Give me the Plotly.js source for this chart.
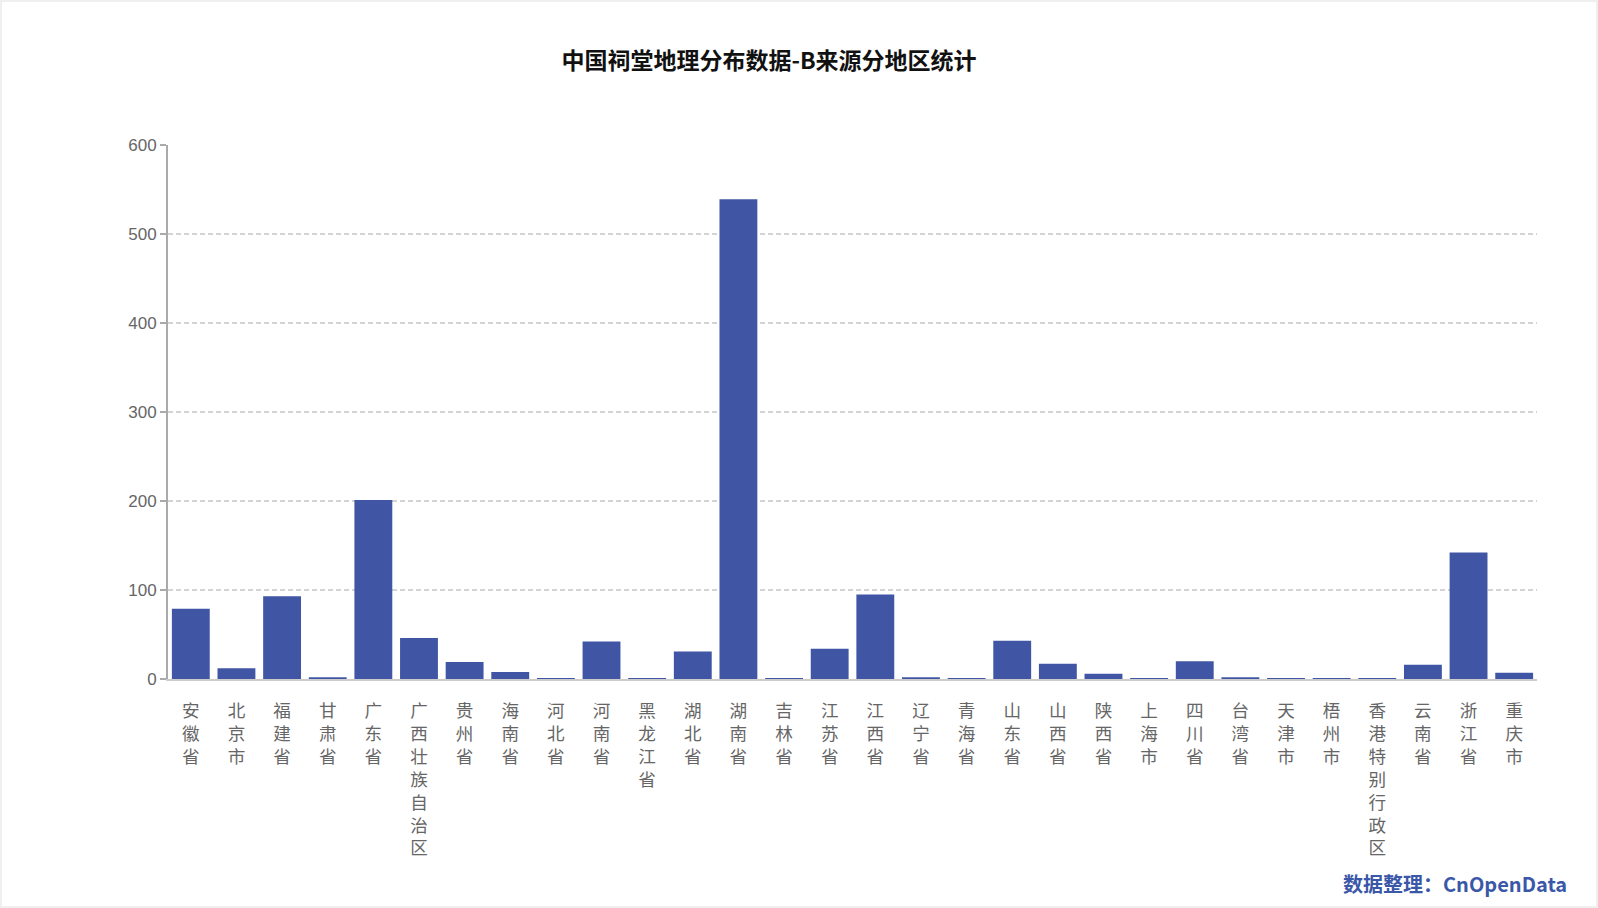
<!DOCTYPE html>
<html>
<head>
<meta charset="utf-8">
<script src="https://cdn.plot.ly/plotly-3.0.1.min.js"></script>
<style>
  html, body { margin: 0; padding: 0; background: #fff; }
  #chart { width: 1598px; height: 908px; }
  #frame { position: fixed; left: 0; top: 0; width: 1598px; height: 908px;
           box-sizing: border-box; border: 2px solid #efefef; pointer-events: none; }
</style>
</head>
<body>
<div id="chart"></div>
<div id="frame"></div>
<script>
// regions and counts
const regions = ['安徽省', '北京市', '福建省', '甘肃省', '广东省', '广西壮族自治区', '贵州省', '海南省',
    '河北省', '河南省', '黑龙江省', '湖北省', '湖南省', '吉林省', '江苏省', '江西省', '辽宁省', '青海省',
    '山东省', '山西省', '陕西省', '上海市', '四川省', '台湾省', '天津市', '梧州市', '香港特别行政区',
    '云南省', '浙江省', '重庆市'];
const counts = [79, 12, 93, 2, 201, 46, 19, 8,
    1, 42, 1, 31, 539, 1, 34, 95, 2, 1,
    43, 17, 6, 1, 20, 2, 1, 1, 1,
    16, 142, 7];
const yTicks = [0, 100, 200, 300, 400, 500, 600];

// vertical labels: one character per line
const regionLabels = regions.map(function (r) { return r.split('').join('<br>'); });

const fontFam = 'Liberation Sans, Noto Sans CJK SC, sans-serif';
const cjkFam = 'Noto Sans CJK SC, sans-serif';

let data = [{
    type: 'bar',
    x: regions,
    y: counts,
    marker: { color: '#4056a5' },
    hoverinfo: 'x+y',
}];

let layout = {
    width: 1598,
    height: 908,
    margin: { l: 168, r: 61, t: 145, b: 229, pad: 0 },
    paper_bgcolor: '#ffffff',
    plot_bgcolor: '#ffffff',
    bargap: 0.17,
    showlegend: false,
    title: {
        text: '<b>中国祠堂地理分布数据-B来源分地区统计</b>',
        x: 769 / 1598,
        xref: 'container',
        xanchor: 'center',
        y: 1 - 61 / 908,
        yref: 'container',
        yanchor: 'middle',
        font: { family: cjkFam, size: 23, color: '#111111' },
    },
    xaxis: {
        type: 'category',
        tickvals: regions,
        ticktext: regionLabels,
        tickangle: 0,
        ticks: '',
        showgrid: false,
        showline: true,
        linecolor: '#cccccc',
        linewidth: 2,
        zeroline: false,
        ticklabelstandoff: 15,
        tickfont: { family: cjkFam, size: 17.6, color: '#666666' },
        fixedrange: true,
    },
    yaxis: {
        range: [0, 600],
        tickvals: yTicks,
        ticktext: yTicks.map(String),
        showgrid: true,
        gridcolor: '#d4d4d4',
        griddash: '5px,3px',
        gridwidth: 1.5,
        showline: true,
        linecolor: '#aaaaaa',
        linewidth: 2,
        ticks: 'outside',
        ticklen: 6,
        tickcolor: '#aaaaaa',
        tickwidth: 2,
        zeroline: false,
        tickfont: { family: fontFam, size: 17, color: '#666666' },
        fixedrange: true,
    },
    annotations: [{
        text: '<b>数据整理：CnOpenData</b>',
        xref: 'paper',
        yref: 'paper',
        x: (1569 - 168) / (1598 - 168 - 61),
        y: -(883 - 679) / (908 - 145 - 229),
        xanchor: 'right',
        yanchor: 'middle',
        showarrow: false,
        font: { family: cjkFam, size: 20, color: '#3a57a8' },
    }],
};

let config = { staticPlot: true, displayModeBar: false };

Plotly.newPlot('chart', data, layout, config);
</script>
</body>
</html>
